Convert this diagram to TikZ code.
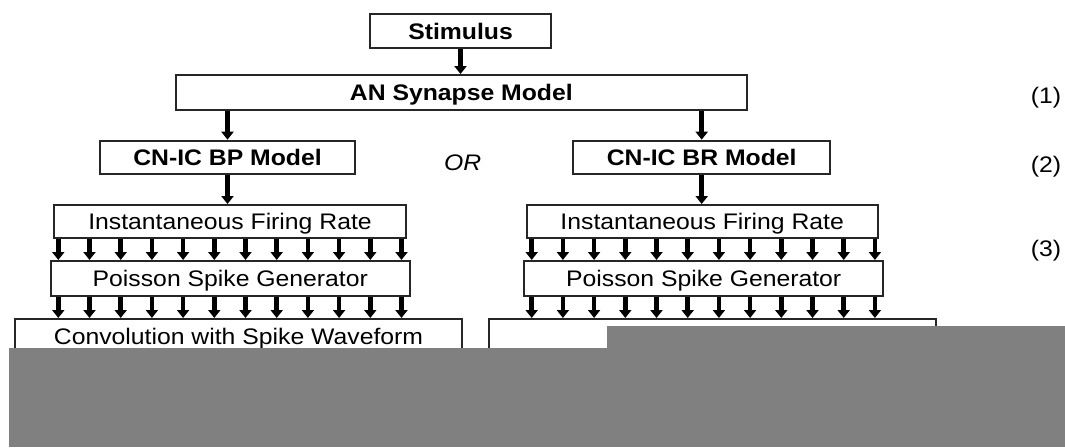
\documentclass[tikz,border=0pt]{standalone}
\usepackage{fontspec}
\setmainfont{Liberation Sans}[FakeStretch=1.1]
\usetikzlibrary{arrows.meta}
\definecolor{cover}{RGB}{128,128,128}
\begin{document}
\begin{tikzpicture}[x=1pt,y=-1pt,
  box/.style={draw=black!85, line width=2pt, inner sep=0pt, rectangle, fill=white,
    text height=16pt, text depth=0pt, font=\fontsize{22.5}{27}\selectfont},
  bbox/.style={box, font=\fontsize{22.5}{27}\selectfont\bfseries},
  arr/.style={line width=4.5pt, -{Triangle[width=12pt,length=8pt]}},
  lbl/.style={inner sep=0pt, text height=16pt, text depth=0pt, font=\fontsize{22.5}{27}\selectfont}]
\useasboundingbox[fill=white] (0,0) rectangle (1065,447);

% top
\node[bbox, minimum width=181pt, minimum height=34pt] (stim) at (460.5,31) {Stimulus};
\node[bbox, minimum width=570.5pt, minimum height=34.5pt] (an) at (461.3,92.3) {AN Synapse Model};
\node[bbox, minimum width=255pt, minimum height=33.6pt] (bp) at (227.5,157.5) {CN-IC BP Model};
\node[bbox, minimum width=256.7pt, minimum height=33.6pt] (br) at (701.7,157.5) {CN-IC BR Model};
\node[lbl, font=\fontsize{22.5}{27}\selectfont\itshape] (or) at (462.7,162) {OR};

% left column
\node[box, minimum width=352pt, minimum height=33.3pt] (ifrL) at (230,221.7) {Instantaneous Firing Rate};
\node[box, minimum width=359.3pt, minimum height=35pt] (psgL) at (230.3,278.5) {Poisson Spike Generator};
\node[box, minimum width=447pt, minimum height=34pt] (convL) at (238.5,336) {Convolution with Spike Waveform};

% right column
\node[box, minimum width=351pt, minimum height=33.3pt] (ifrR) at (702.2,221.7) {Instantaneous Firing Rate};
\node[box, minimum width=359.3pt, minimum height=35pt] (psgR) at (703.7,278.5) {Poisson Spike Generator};
\node[box, minimum width=446.4pt, minimum height=34pt] (convR) at (712.5,336) {};

% stage labels
\node[lbl] (l1) at (1046,95) {(1)};
\node[lbl] (l2) at (1046,164) {(2)};
\node[lbl] (l3) at (1046,248) {(3)};

% connectors
\draw[arr] (stim.south) -- (stim.south |- an.north);
\draw[arr] (bp.north |- an.south) -- (bp.north);
\draw[arr] (br.north |- an.south) -- (br.north);
\draw[arr] (bp.south) -- (bp.south |- ifrL.north);
\draw[arr] (br.south) -- (br.south |- ifrR.north);
\foreach \k in {0,...,11}{
  \draw[arr] ({58.3+31.2*\k},0 |- ifrL.south) -- ({58.3+31.2*\k},0 |- psgL.north);
  \draw[arr] ({58.3+31.2*\k},0 |- psgL.south) -- ({58.3+31.2*\k},0 |- convL.north);
  \draw[arr] ({531.7+31.2*\k},0 |- ifrR.south) -- ({531.7+31.2*\k},0 |- psgR.north);
  \draw[arr] ({531.7+31.2*\k},0 |- psgR.south) -- ({531.7+31.2*\k},0 |- convR.north);
}

% grey cover over the lower part
\fill[cover] (9,348) rectangle (1065,447);
\fill[cover] (607,326) rectangle (1065,348);
\end{tikzpicture}
\end{document}
